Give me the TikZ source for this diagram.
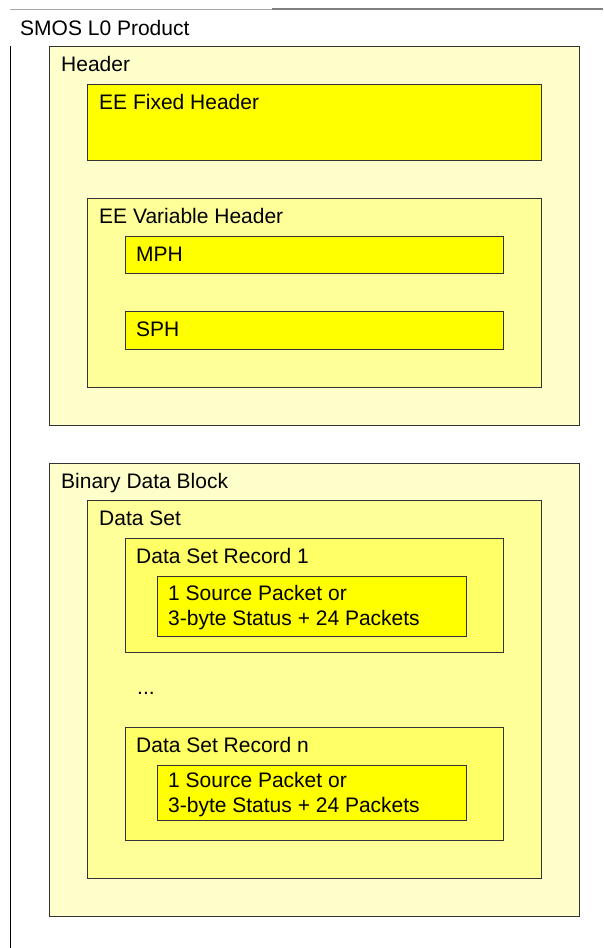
\documentclass[tikz,border=0pt]{standalone}
\usepackage{fontspec}
\setmainfont{Liberation Sans}
\definecolor{lvlA}{HTML}{FFFFCC}
\definecolor{lvlB}{HTML}{FFFF99}
\definecolor{lvlC}{HTML}{FFFF66}
\definecolor{lvlD}{HTML}{FFFF00}
\definecolor{edge}{HTML}{333333}
\tikzset{
  boxA/.style={draw=edge,line width=1pt,fill=lvlA},
  boxB/.style={draw=edge,line width=1pt,fill=lvlB},
  boxC/.style={draw=edge,line width=1pt,fill=lvlC},
  boxD/.style={draw=edge,line width=1pt,fill=lvlD},
  lbl/.style={anchor=base west,inner sep=0pt,font=\fontsize{21}{25}\selectfont,text=black},
}
\begin{document}
\begin{tikzpicture}[x=1pt,y=-1pt]
\useasboundingbox (0,0) rectangle (603,948);
% frame lines
\coordinate (tl) at (10,9);
\coordinate (tm) at (272,9);
\coordinate (tr) at (603,9);
\coordinate (vl1) at (10,46);
\coordinate (vl2) at (10,948);
\draw[gray!70,line width=0.8pt] (tl) -- (tm);
\draw[gray,line width=1.4pt] (tm) -- (tr);
\draw[black,line width=1pt] (vl1) -- (vl2);
\node[lbl] (title) at (20,35) {SMOS L0 Product};
% Header
\draw[boxA] (49,46) rectangle (579,425);
\node[lbl] (hdr) at (61,71) {Header};
\draw[boxD] (87,84) rectangle (541,160);
\node[lbl] (fix) at (99,109) {EE Fixed Header};
\draw[boxB] (87,198) rectangle (541,387);
\node[lbl] (var) at (99,223) {EE Variable Header};
\draw[boxD] (125,236) rectangle (503,273);
\node[lbl] (mph) at (136,261) {MPH};
\draw[boxD] (125,311) rectangle (503,349);
\node[lbl] (sph) at (136,336) {SPH};
% Binary Data Block
\draw[boxA] (49,463) rectangle (579,916);
\node[lbl] (bdb) at (61,488) {Binary Data Block};
\draw[boxB] (87,500) rectangle (541,878);
\node[lbl] (ds) at (99,525.5) {Data Set};
\draw[boxC] (125,538) rectangle (503,652);
\node[lbl] (dsr1) at (136,563) {Data Set Record 1};
\draw[boxD] (157,576) rectangle (466,636);
\node[lbl] (p1a) at (168,600) {1 Source Packet or};
\node[lbl] (p1b) at (168,625) {3-byte Status + 24 Packets};
\node[lbl] (dots) at (137,694) {...};
\draw[boxC] (125,727) rectangle (503,840);
\node[lbl] (dsrn) at (136,752) {Data Set Record n};
\draw[boxD] (157,765) rectangle (466,820);
\node[lbl] (pna) at (168,787) {1 Source Packet or};
\node[lbl] (pnb) at (168,812) {3-byte Status + 24 Packets};
\end{tikzpicture}
\end{document}
